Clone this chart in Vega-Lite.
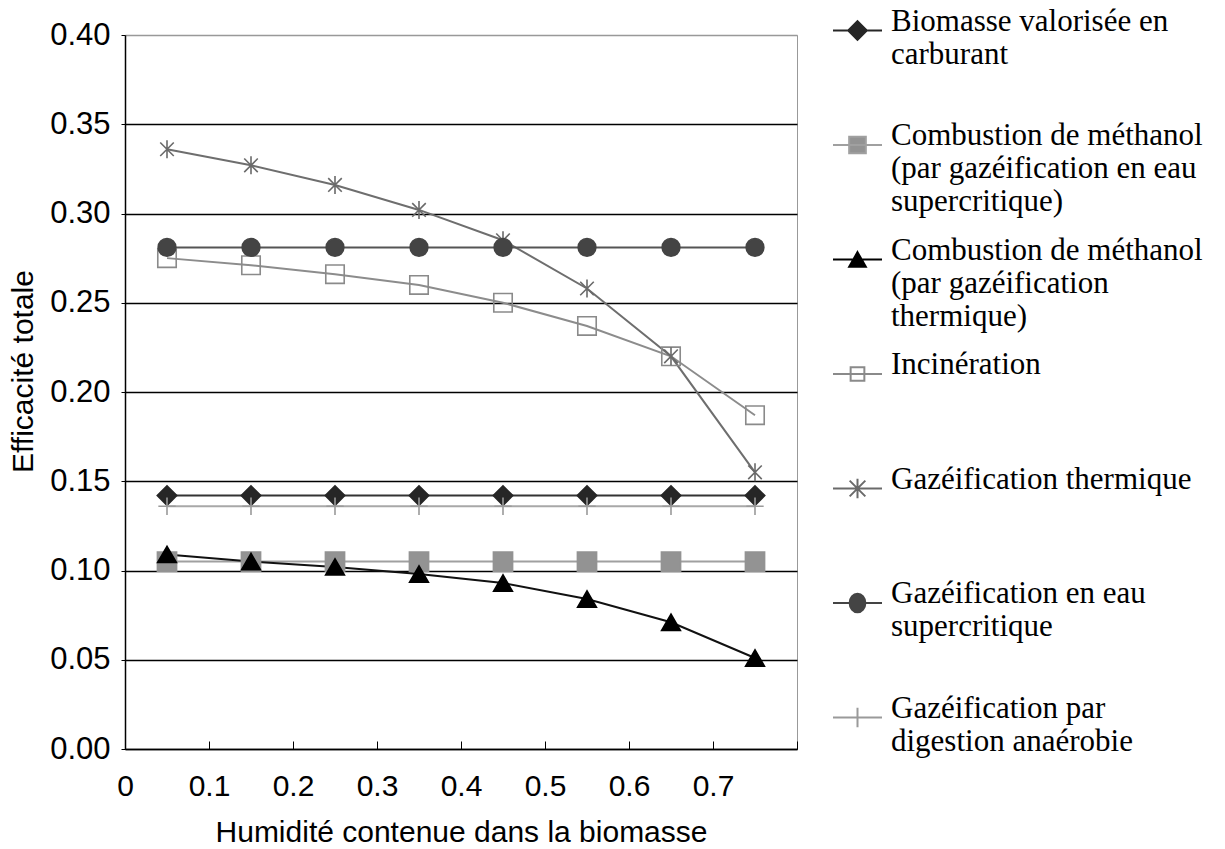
{
  "$schema": "https://vega.github.io/schema/vega-lite/v6.json",
  "width": 672,
  "height": 714,
  "autosize": {"type": "none"},
  "padding": {"left": 125, "top": 35, "right": 428, "bottom": 100},
  "background": "white",
  "config": {
    "view": {"stroke": "#999999", "strokeWidth": 1},
    "font": "Liberation Sans"
  },
  "data": {
    "values": [
      {"series": "Biomasse valorisée en carburant", "x": 0.05, "y": 0.142},
      {"series": "Biomasse valorisée en carburant", "x": 0.15, "y": 0.142},
      {"series": "Biomasse valorisée en carburant", "x": 0.25, "y": 0.142},
      {"series": "Biomasse valorisée en carburant", "x": 0.35, "y": 0.142},
      {"series": "Biomasse valorisée en carburant", "x": 0.45, "y": 0.142},
      {"series": "Biomasse valorisée en carburant", "x": 0.55, "y": 0.142},
      {"series": "Biomasse valorisée en carburant", "x": 0.65, "y": 0.142},
      {"series": "Biomasse valorisée en carburant", "x": 0.75, "y": 0.142},
      {"series": "Combustion de méthanol (par gazéification en eau supercritique)", "x": 0.05, "y": 0.105},
      {"series": "Combustion de méthanol (par gazéification en eau supercritique)", "x": 0.15, "y": 0.105},
      {"series": "Combustion de méthanol (par gazéification en eau supercritique)", "x": 0.25, "y": 0.105},
      {"series": "Combustion de méthanol (par gazéification en eau supercritique)", "x": 0.35, "y": 0.105},
      {"series": "Combustion de méthanol (par gazéification en eau supercritique)", "x": 0.45, "y": 0.105},
      {"series": "Combustion de méthanol (par gazéification en eau supercritique)", "x": 0.55, "y": 0.105},
      {"series": "Combustion de méthanol (par gazéification en eau supercritique)", "x": 0.65, "y": 0.105},
      {"series": "Combustion de méthanol (par gazéification en eau supercritique)", "x": 0.75, "y": 0.105},
      {"series": "Combustion de méthanol (par gazéification thermique)", "x": 0.05, "y": 0.109},
      {"series": "Combustion de méthanol (par gazéification thermique)", "x": 0.15, "y": 0.105},
      {"series": "Combustion de méthanol (par gazéification thermique)", "x": 0.25, "y": 0.102},
      {"series": "Combustion de méthanol (par gazéification thermique)", "x": 0.35, "y": 0.098},
      {"series": "Combustion de méthanol (par gazéification thermique)", "x": 0.45, "y": 0.093},
      {"series": "Combustion de méthanol (par gazéification thermique)", "x": 0.55, "y": 0.084},
      {"series": "Combustion de méthanol (par gazéification thermique)", "x": 0.65, "y": 0.071},
      {"series": "Combustion de méthanol (par gazéification thermique)", "x": 0.75, "y": 0.051},
      {"series": "Incinération", "x": 0.05, "y": 0.275},
      {"series": "Incinération", "x": 0.15, "y": 0.271},
      {"series": "Incinération", "x": 0.25, "y": 0.266},
      {"series": "Incinération", "x": 0.35, "y": 0.26},
      {"series": "Incinération", "x": 0.45, "y": 0.25},
      {"series": "Incinération", "x": 0.55, "y": 0.237},
      {"series": "Incinération", "x": 0.65, "y": 0.22},
      {"series": "Incinération", "x": 0.75, "y": 0.187},
      {"series": "Gazéification thermique", "x": 0.05, "y": 0.336},
      {"series": "Gazéification thermique", "x": 0.15, "y": 0.327},
      {"series": "Gazéification thermique", "x": 0.25, "y": 0.316},
      {"series": "Gazéification thermique", "x": 0.35, "y": 0.302},
      {"series": "Gazéification thermique", "x": 0.45, "y": 0.285},
      {"series": "Gazéification thermique", "x": 0.55, "y": 0.258},
      {"series": "Gazéification thermique", "x": 0.65, "y": 0.22},
      {"series": "Gazéification thermique", "x": 0.75, "y": 0.155},
      {"series": "Gazéification en eau supercritique", "x": 0.05, "y": 0.281},
      {"series": "Gazéification en eau supercritique", "x": 0.15, "y": 0.281},
      {"series": "Gazéification en eau supercritique", "x": 0.25, "y": 0.281},
      {"series": "Gazéification en eau supercritique", "x": 0.35, "y": 0.281},
      {"series": "Gazéification en eau supercritique", "x": 0.45, "y": 0.281},
      {"series": "Gazéification en eau supercritique", "x": 0.55, "y": 0.281},
      {"series": "Gazéification en eau supercritique", "x": 0.65, "y": 0.281},
      {"series": "Gazéification en eau supercritique", "x": 0.75, "y": 0.281},
      {"series": "Gazéification par digestion anaérobie", "x": 0.05, "y": 0.136},
      {"series": "Gazéification par digestion anaérobie", "x": 0.15, "y": 0.136},
      {"series": "Gazéification par digestion anaérobie", "x": 0.25, "y": 0.136},
      {"series": "Gazéification par digestion anaérobie", "x": 0.35, "y": 0.136},
      {"series": "Gazéification par digestion anaérobie", "x": 0.45, "y": 0.136},
      {"series": "Gazéification par digestion anaérobie", "x": 0.55, "y": 0.136},
      {"series": "Gazéification par digestion anaérobie", "x": 0.65, "y": 0.136},
      {"series": "Gazéification par digestion anaérobie", "x": 0.75, "y": 0.136}
    ]
  },
  "encoding": {
    "x": {
      "field": "x", "type": "quantitative",
      "scale": {"domain": [0, 0.8], "nice": false, "zero": false},
      "axis": {
        "title": "Humidité contenue dans la biomasse",
        "values": [0, 0.1, 0.2, 0.3, 0.4, 0.5, 0.6, 0.7, 0.8],
        "labelExpr": "datum.value > 0.75 ? '' : format(datum.value, '~g')",
        "grid": false,
        "ticks": true, "tickSize": -8, "tickColor": "#000000", "tickWidth": 1,
        "domainColor": "#000000", "domainWidth": 1.5,
        "labelFont": "Liberation Sans", "labelFontSize": 30, "labelColor": "#000000",
        "labelPadding": 30, "labelFlush": false, "labelOverlap": false,
        "titleFont": "Liberation Sans", "titleFontSize": 30, "titleFontWeight": "normal", "titleColor": "#000000",
        "titlePadding": 16
      }
    },
    "y": {
      "field": "y", "type": "quantitative",
      "scale": {"domain": [0, 0.4], "nice": false, "zero": false},
      "axis": {
        "title": "Efficacité totale",
        "titleY": 336,
        "values": [0, 0.05, 0.1, 0.15, 0.2, 0.25, 0.3, 0.35, 0.4],
        "format": ".2f",
        "grid": true,
        "gridColor": {"condition": {"test": "datum.value >= 0.399", "value": "#999999"}, "value": "#000000"},
        "gridWidth": 1.5,
        "ticks": true, "tickSize": 4, "tickColor": "#000000", "tickWidth": 1,
        "domainColor": "#000000", "domainWidth": 1.5,
        "labelFont": "Liberation Sans", "labelFontSize": 31, "labelColor": "#000000",
        "labelPadding": 11, "labelFlush": false, "labelOverlap": false,
        "titleFont": "Liberation Sans", "titleFontSize": 30, "titleFontWeight": "normal", "titleColor": "#000000",
        "titlePadding": 11
      }
    }
  },
  "layer": [
    {
      "mark": {"type": "line", "strokeWidth": 2},
      "encoding": {
        "color": {
          "field": "series", "type": "nominal", "legend": null,
          "scale": {
            "domain": ["Biomasse valorisée en carburant", "Combustion de méthanol (par gazéification en eau supercritique)", "Combustion de méthanol (par gazéification thermique)", "Incinération", "Gazéification thermique", "Gazéification en eau supercritique", "Gazéification par digestion anaérobie"],
            "range": ["#333333", "#a0a0a0", "#111111", "#8c8c8c", "#6e6e6e", "#555555", "#a8a8a8"]
          }
        }
      }
    },
    {
      "mark": {"type": "point", "filled": true, "strokeWidth": 1.6, "opacity": 1},
      "encoding": {
        "fill": {
          "field": "series", "type": "nominal", "legend": null,
          "scale": {
            "domain": ["Biomasse valorisée en carburant", "Combustion de méthanol (par gazéification en eau supercritique)", "Combustion de méthanol (par gazéification thermique)", "Incinération", "Gazéification thermique", "Gazéification en eau supercritique", "Gazéification par digestion anaérobie"],
            "range": ["#262626", "#939393", "#000000", "transparent", "transparent", "#444444", "transparent"]
          }
        },
        "stroke": {
          "field": "series", "type": "nominal", "legend": null,
          "scale": {
            "domain": ["Biomasse valorisée en carburant", "Combustion de méthanol (par gazéification en eau supercritique)", "Combustion de méthanol (par gazéification thermique)", "Incinération", "Gazéification thermique", "Gazéification en eau supercritique", "Gazéification par digestion anaérobie"],
            "range": ["#262626", "#939393", "#000000", "#8a8a8a", "#6a6a6a", "#444444", "#9a9a9a"]
          }
        },
        "shape": {
          "field": "series", "type": "nominal", "legend": null,
          "scale": {
            "domain": ["Biomasse valorisée en carburant", "Combustion de méthanol (par gazéification en eau supercritique)", "Combustion de méthanol (par gazéification thermique)", "Incinération", "Gazéification thermique", "Gazéification en eau supercritique", "Gazéification par digestion anaérobie"],
            "range": ["diamond", "square", "triangle-up", "square", "M0,-1V1M-0.75,-0.75L0.75,0.75M-0.75,0.75L0.75,-0.75", "circle", "M0,-1V1M-1,0H1"]
          }
        },
        "size": {
          "field": "series", "type": "nominal", "legend": null,
          "scale": {
            "domain": ["Biomasse valorisée en carburant", "Combustion de méthanol (par gazéification en eau supercritique)", "Combustion de méthanol (par gazéification thermique)", "Incinération", "Gazéification thermique", "Gazéification en eau supercritique", "Gazéification par digestion anaérobie"],
            "range": [380, 300, 280, 280, 400, 300, 280]
          }
        }
      }
    },
    {
      "transform": [{"filter": "datum.x < 0"}],
      "mark": {"type": "point", "filled": true, "strokeWidth": 2, "opacity": 1},
      "encoding": {
        "fill": {
          "field": "series", "type": "nominal",
          "scale": {
            "domain": ["Biomasse valorisée en carburant", "Combustion de méthanol (par gazéification en eau supercritique)", "Combustion de méthanol (par gazéification thermique)", "Incinération", "Gazéification thermique", "Gazéification en eau supercritique", "Gazéification par digestion anaérobie"],
            "range": ["#262626", "#939393", "#000000", "transparent", "transparent", "#444444", "transparent"]
          },
          "legend": {
            "title": null,
            "orient": "none",
            "direction": "vertical",
            "legendX": 707,
            "legendY": -30,
            "gridAlign": "all",
            "rowPadding": 16.5,
            "symbolSize": 2401,
            "symbolStrokeWidth": 2,
            "labelFont": "Liberation Serif",
            "labelFontSize": 31,
            "labelColor": "#000000",
            "labelLimit": 400,
            "labelOffset": 8,
            "labelBaseline": "alphabetic",
            "labelExpr": "datum.label == 'Biomasse valorisée en carburant' ? ['Biomasse valorisée en', 'carburant'] : datum.label == 'Combustion de méthanol (par gazéification en eau supercritique)' ? ['Combustion de méthanol', '(par gazéification en eau', 'supercritique)'] : datum.label == 'Combustion de méthanol (par gazéification thermique)' ? ['Combustion de méthanol', '(par gazéification', 'thermique)'] : datum.label == 'Gazéification en eau supercritique' ? ['Gazéification en eau', 'supercritique'] : datum.label == 'Gazéification par digestion anaérobie' ? ['Gazéification par', 'digestion anaérobie'] : datum.label"
          }
        },
        "stroke": {
          "field": "series", "type": "nominal",
          "scale": {
            "domain": ["Biomasse valorisée en carburant", "Combustion de méthanol (par gazéification en eau supercritique)", "Combustion de méthanol (par gazéification thermique)", "Incinération", "Gazéification thermique", "Gazéification en eau supercritique", "Gazéification par digestion anaérobie"],
            "range": ["#262626", "#a0a0a0", "#000000", "#8a8a8a", "#6a6a6a", "#444444", "#9a9a9a"]
          }
        },
        "shape": {
          "field": "series", "type": "nominal",
          "scale": {
            "domain": ["Biomasse valorisée en carburant", "Combustion de méthanol (par gazéification en eau supercritique)", "Combustion de méthanol (par gazéification thermique)", "Incinération", "Gazéification thermique", "Gazéification en eau supercritique", "Gazéification par digestion anaérobie"],
            "range": [
              "M-1,0H1M0,-0.38L0.38,0L0,0.38L-0.38,0Z",
              "M-1,0H1M-0.34,-0.34H0.34V0.34H-0.34Z",
              "M-1,0H1M0,-0.3L0.34,0.3H-0.34Z",
              "M-1,0H1M-0.28,-0.28H0.28V0.28H-0.28Z",
              "M-1,0H1M0,-0.4V0.4M-0.32,-0.32L0.32,0.32M-0.32,0.32L0.32,-0.32",
              "M-1,0H1M0.32,0A0.32,0.38 0 1,1 -0.32,0A0.32,0.38 0 1,1 0.32,0Z",
              "M-1,0H1M0,-0.4V0.4"
            ]
          }
        }
      }
    }
  ],
  "resolve": {"scale": {"fill": "independent", "stroke": "independent", "shape": "independent"}}
}
